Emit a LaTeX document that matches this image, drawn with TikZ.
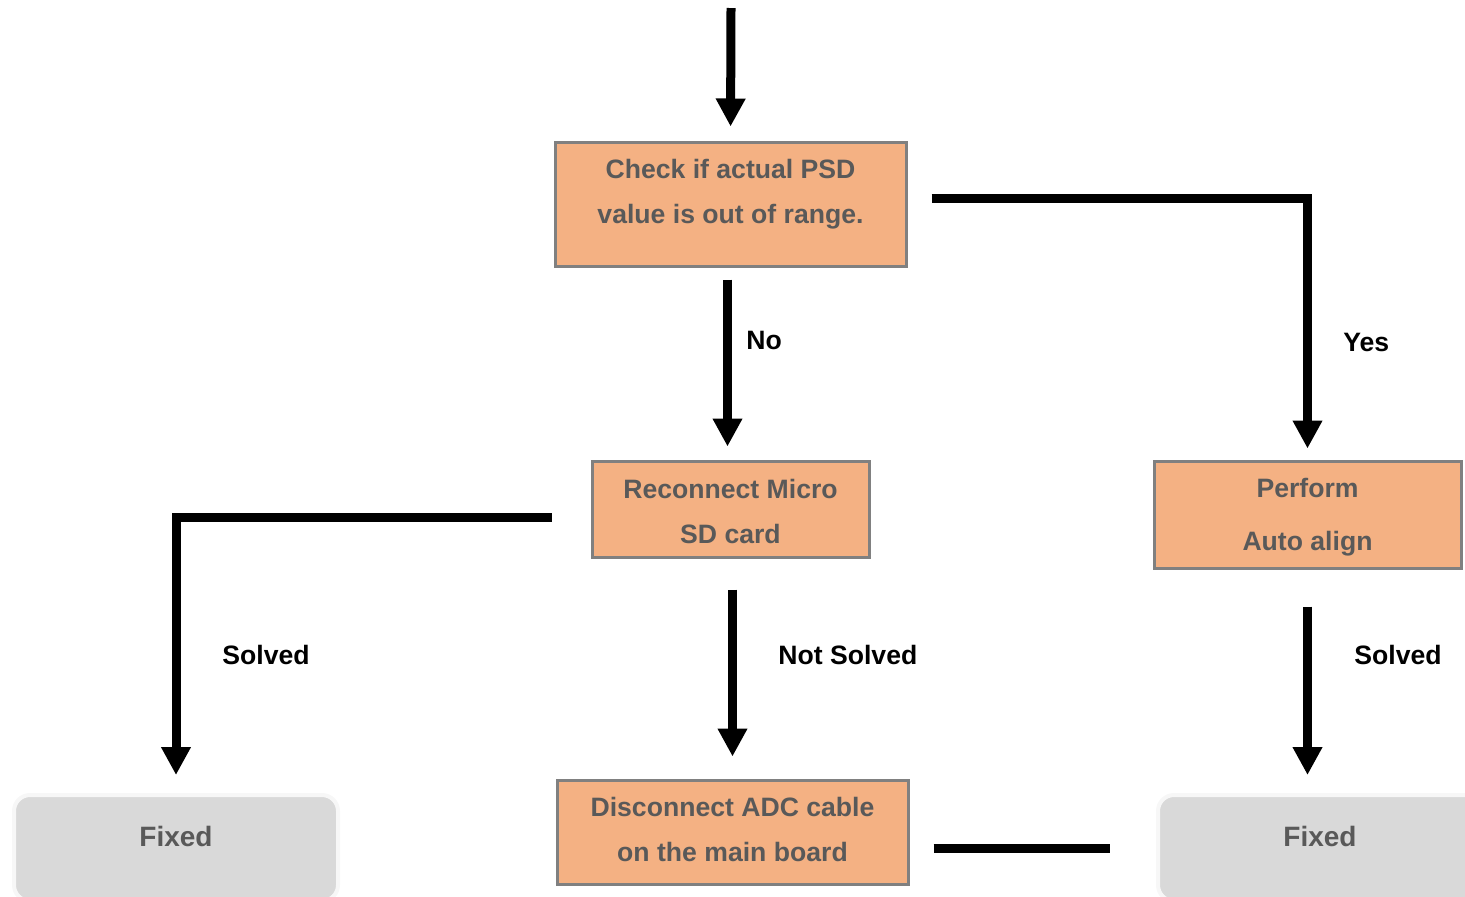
\documentclass[tikz,border=0pt]{standalone}
\usepackage{fontspec}
\setmainfont{Liberation Sans}
\usetikzlibrary{arrows.meta}
\definecolor{boxorange}{HTML}{F4B183}
\definecolor{boxgray}{HTML}{D9D9D9}
\definecolor{txtgray}{HTML}{595959}
\definecolor{edgegray}{HTML}{808080}
\tikzset{
  stepbox/.style={draw=edgegray, line width=1.5pt, fill=boxorange, text=txtgray,
    font=\fontsize{13.3}{22.5}\selectfont\bfseries, align=center, inner sep=0pt},
  fixedbox/.style={draw=gray!6, line width=2pt, fill=boxgray, rounded corners=8pt,
    text=txtgray, font=\fontsize{14}{16}\selectfont\bfseries, inner sep=0pt,
    minimum width=162pt, minimum height=53pt, text height=25.5pt, text depth=27.5pt},
  flow/.style={line width=4.5pt, -{Triangle[width=14pt,length=14pt]}},
  flowline/.style={line width=4.5pt},
  lbl/.style={font=\fontsize{13.3}{16}\selectfont\bfseries, anchor=west, inner sep=0pt}
}
\begin{document}
\begin{tikzpicture}[x=0.5pt,y=-0.5pt]
  \useasboundingbox (0,0) rectangle (1465,896);
  \clip (0,0) rectangle (1465,896);

  \node[stepbox, minimum width=175.5pt, minimum height=62pt,
    text height=40.5pt, text depth=21.5pt] (check) at (730.5,204)
    {Check if actual PSD\\value is out of range.};
  \node[stepbox, minimum width=138.5pt, minimum height=48pt,
    text height=41pt, text depth=7pt] (reconnect) at (730.5,509)
    {Reconnect Micro\\SD card};
  \node[stepbox, minimum width=153.5pt, minimum height=53.5pt,
    text height=44.5pt, text depth=9pt] (perform) at (1307.5,514.5)
    {Perform\\[4pt]Auto align};
  \node[stepbox, minimum width=175.5pt, minimum height=52pt,
    text height=40.5pt, text depth=11.5pt] (disconnect) at (732.5,832)
    {Disconnect ADC cable\\on the main board};
  \node[fixedbox] (fixedL) at (176,848) {Fixed};
  \node[fixedbox] (fixedR) at (1320,848) {Fixed};

  \coordinate (start) at (731,8);
  \draw[flow, shorten >=7pt] (start) -- (check.north);
  \draw[flow, shorten <=6pt, shorten >=6.5pt] ([xshift=-1.5pt]check.south) -- ([xshift=-1.5pt]reconnect.north);
  \draw[flow, shorten <=12pt, shorten >=5.5pt] ([yshift=3pt]check.east) -| (perform.north);
  \draw[flow, shorten <=19.5pt, shorten >=9pt] ([yshift=-4pt]reconnect.west) -| (fixedL.north);
  \draw[flow, shorten <=15.5pt, shorten >=11pt] (reconnect.south -| disconnect.north) -- (disconnect.north);
  \draw[flow, shorten <=18.5pt, shorten >=9pt] (perform.south) -- (perform.south |- fixedR.north);
  \draw[flowline, shorten <=12pt, shorten >=23pt] (disconnect.east |- fixedR.west) -- (fixedR.west);

  \node[lbl] (no) at (746,340) {No};
  \node[lbl] (yes) at (1343,342) {Yes};
  \node[lbl] (solvedL) at (222,655) {Solved};
  \node[lbl] (notsolved) at (778,655) {Not Solved};
  \node[lbl] (solvedR) at (1354,655) {Solved};
\end{tikzpicture}
\end{document}
